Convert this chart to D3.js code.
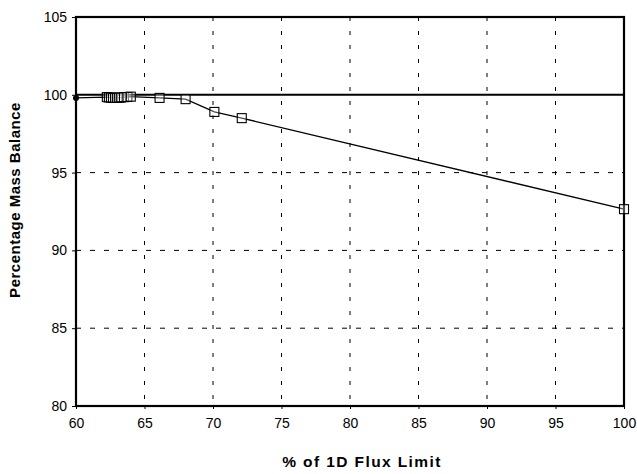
<!DOCTYPE html>
<html><head><meta charset="utf-8">
<script src="https://cdn.jsdelivr.net/npm/d3@7"></script>
<style>body{margin:0;background:#fff}</style>
</head><body>
<script>
const xValues = [60, 62.25, 62.4, 62.55, 62.7, 62.85, 63.0, 63.15, 63.3, 63.5, 63.75, 64.0, 66.1, 68.0, 70.1, 72.1, 100];
const yValues = [99.8, 99.85, 99.83, 99.82, 99.8, 99.8, 99.8, 99.82, 99.83, 99.85, 99.86, 99.88, 99.8, 99.72, 98.9, 98.5, 92.65];
const xTicks = [60, 65, 70, 75, 80, 85, 90, 95, 100];
const yTicks = [80, 85, 90, 95, 100, 105];
const refLine = 100;
const xTitle = "% of 1D Flux Limit";
const yTitle = "Percentage Mass Balance";

const W = 637, H = 474;
const m = {l: 76, r: 13, t: 17, b: 68};
const svg = d3.select("body").append("svg").attr("width", W).attr("height", H);
const x = d3.scaleLinear().domain([60, 100]).range([m.l, W - m.r]);
const y = d3.scaleLinear().domain([80, 105]).range([H - m.b, m.t]);
const font = "Liberation Sans, Arial, sans-serif";

// grid
svg.append("g").selectAll("line").data(xTicks.filter(d => d > 60 && d < 100)).join("line")
  .attr("x1", d => x(d)).attr("x2", d => x(d)).attr("y1", y(105)).attr("y2", y(80))
  .attr("stroke", "#000").attr("stroke-width", 1).attr("stroke-dasharray", "4,10");
svg.append("g").selectAll("line").data(yTicks.filter(d => d > 80 && d < 100)).join("line")
  .attr("x1", x(60)).attr("x2", x(100)).attr("y1", d => y(d)).attr("y2", d => y(d))
  .attr("stroke", "#000").attr("stroke-width", 1).attr("stroke-dasharray", "5,9");

// reference line at 100
svg.append("line").attr("x1", x(60)).attr("x2", x(100)).attr("y1", y(refLine)).attr("y2", y(refLine))
  .attr("stroke", "#000").attr("stroke-width", 2);

// frame
svg.append("rect").attr("x", x(60)).attr("y", y(105)).attr("width", x(100) - x(60)).attr("height", y(80) - y(105))
  .attr("fill", "none").attr("stroke", "#000").attr("stroke-width", 2.2);

// axes
const yAxis = d3.axisLeft(y).tickValues(yTicks).tickSize(4).tickPadding(5);
const gy = svg.append("g").attr("transform", `translate(${x(60)},0)`).call(yAxis);
gy.select(".domain").remove();
gy.selectAll("text").attr("font-family", font).attr("font-size", 14).attr("fill", "#000");
const xAxis = d3.axisBottom(x).tickValues(xTicks).tickSize(3).tickPadding(9);
const gx = svg.append("g").attr("transform", `translate(0,${y(80)})`).call(xAxis);
gx.select(".domain").remove();
gx.selectAll("text").attr("font-family", font).attr("font-size", 14).attr("fill", "#000");

// data line
const pts = xValues.map((d, i) => [d, yValues[i]]);
svg.append("path").datum(pts)
  .attr("d", d3.line().x(d => x(d[0])).y(d => y(d[1])))
  .attr("fill", "none").attr("stroke", "#000").attr("stroke-width", 1.3);

// markers
const s = 9;
svg.append("g").selectAll("rect").data(pts.slice(1)).join("rect")
  .attr("x", d => x(d[0]) - s / 2).attr("y", d => y(d[1]) - s / 2)
  .attr("width", s).attr("height", s)
  .attr("fill", "#fff").attr("fill-opacity", 0.3).attr("stroke", "#000").attr("stroke-width", 1.1);
svg.append("circle").attr("cx", x(pts[0][0])).attr("cy", y(pts[0][1])).attr("r", 3).attr("fill", "#000");

// titles
svg.append("text").attr("x", 362).attr("y", 467).attr("text-anchor", "middle")
  .attr("font-family", font).attr("font-weight", "bold").attr("font-size", 15.5).attr("letter-spacing", 1.4).text(xTitle);
svg.append("text").attr("transform", `translate(20,200) rotate(-90)`).attr("text-anchor", "middle")
  .attr("font-family", font).attr("font-weight", "bold").attr("font-size", 15).attr("letter-spacing", 0.5).text(yTitle);
</script>
</body></html>
